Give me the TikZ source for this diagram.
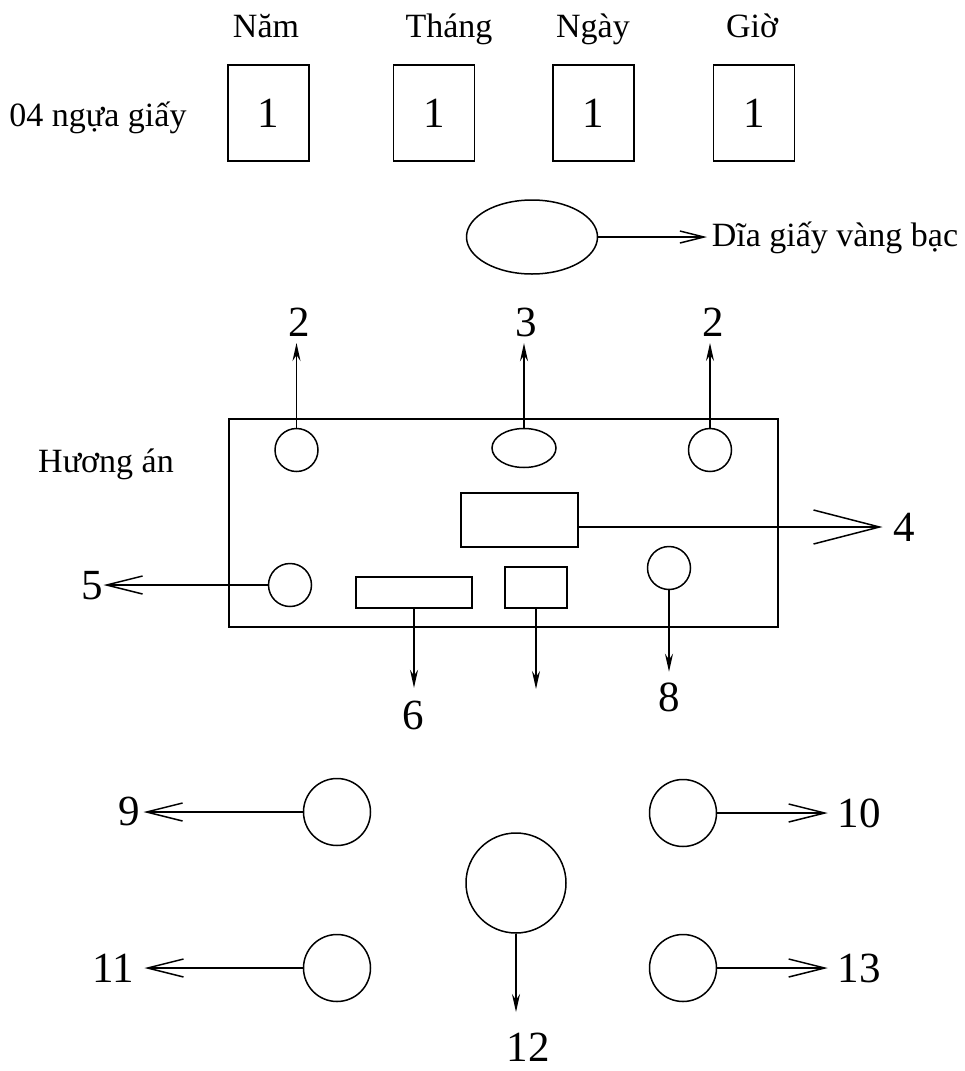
\documentclass[tikz,border=0pt]{standalone}
\usepackage{fontspec}
\setmainfont{Liberation Serif}
\usetikzlibrary{arrows.meta,shapes.geometric}
\begin{document}
\begin{tikzpicture}[x=1pt,y=-1pt,
  line width=1.5pt,
  lbl/.style={font=\fontsize{34}{36}\selectfont, inner sep=0pt},
  num/.style={font=\fontsize{43}{45}\selectfont, inner sep=0pt},
  cell/.style={draw, minimum width=81pt, minimum height=96pt, inner sep=0pt,
               font=\fontsize{43}{45}\selectfont},
  dot/.style={draw, circle, minimum size=43pt, inner sep=0pt},
  ring/.style={draw, circle, minimum size=67pt, inner sep=0pt},
  oval/.style={draw, ellipse, inner sep=0pt},
  part/.style={draw, rectangle, inner sep=0pt},
  barb/.style={-{Straight Barb[length=36pt,width=18pt]}},
  thinbarb/.style={-{Straight Barb[length=24pt,width=12pt]}},
  bigbarb/.style={-{Straight Barb[length=66pt,width=34pt]}},
  drop/.style={-{Stealth[length=18pt,width=8pt]}},
]
\useasboundingbox (0,0) rectangle (964,1071);

% date header
\node[lbl, anchor=base] (nam)   at (266,37) {Năm};
\node[lbl, anchor=base] (thang) at (449,37) {Tháng};
\node[lbl, anchor=base] (ngay)  at (593,37) {Ngày};
\node[lbl, anchor=base] (gio)   at (752,37) {Giờ};
\node[lbl, anchor=base] (ngua)  at (98,126) {04 ngựa giấy};

\node[cell] (b1) at (268.5,113) {1};
\node[cell] (b2) at (434,113) {1};
\node[cell] (b3) at (593.5,113) {1};
\node[cell] (b4) at (754,113) {1};

% paper tray
\node[oval, minimum width=131pt, minimum height=74pt] (tray) at (532,237) {};
\node[lbl, anchor=base west] (dia) at (711,246) {Dĩa giấy vàng bạc};
\draw[thinbarb, shorten >=4pt] (tray.east) -- (tray.east -| dia.west);

% altar table
\node[part, minimum width=549pt, minimum height=208pt] (table) at (503.5,523) {};
\node[lbl, anchor=base] (huong) at (106,472) {Hương án};

\node[dot] (c2a) at (296.5,450) {};
\node[oval, minimum width=64pt, minimum height=39pt] (c3) at (524,448) {};
\node[dot] (c2b) at (710,450) {};
\node[part, minimum width=117pt, minimum height=54pt] (r4) at (519.5,520) {};
\node[dot] (c5) at (290,585) {};
\node[part, minimum width=116pt, minimum height=31pt] (r6) at (414,592.5) {};
\node[part, minimum width=62pt, minimum height=41pt] (r7) at (536,587.5) {};
\node[dot] (c8) at (669,568) {};

\node[num] (l2a) at (299,322) {2};
\node[num] (l3)  at (526,322) {3};
\node[num] (l2b) at (713,322) {2};
\node[num] (l4)  at (904,527) {4};
\node[num] (l5)  at (92,586) {5};
\node[num] (l6)  at (413,715) {6};
\node[num] (l8)  at (669,697) {8};
\coordinate (e7) at (536,689);

\draw[drop, shorten >=6pt] (c2a.north) -- (c2a.north |- l2a.south);
\draw[drop, shorten >=6pt] (c3.north) -- (c3.north |- l3.south);
\draw[drop, shorten >=6pt] (c2b.north) -- (c2b.north |- l2b.south);
\draw[bigbarb, shorten >=10pt] (l4 -| r4.east) -- (l4.west);
\draw[barb] (c5.west) -- (c5.west -| l5.east);
\draw[drop, shorten >=12pt] (r6.south) -- (r6.south |- l6.north);
\draw[drop] (r7.south) -- (e7);
\draw[drop, shorten >=10pt] (c8.south) -- (c8.south |- l8.north);

% lower arrangement
\node[ring] (c9)  at (337,812) {};
\node[ring] (c10) at (683,813) {};
\node[ring] (c11) at (337,968) {};
\node[ring] (c13) at (683,968) {};
\node[draw, circle, minimum size=100pt, inner sep=0pt] (big) at (516,883) {};

\node[num] (l9)  at (129,811) {9};
\node[num] (l10) at (859,813) {10};
\node[num] (l11) at (113,968) {11};
\node[num] (l13) at (859,968) {13};
\node[num] (l12) at (528,1047) {12};

\draw[barb, shorten >=3pt] (c9.west) -- (c9.west -| l9.east);
\draw[barb, shorten >=9pt] (c10.east) -- (c10.east -| l10.west);
\draw[barb, shorten >=10pt] (c11.west) -- (c11.west -| l11.east);
\draw[barb, shorten >=9pt] (c13.east) -- (c13.east -| l13.west);
\draw[drop, shorten >=20pt] (big.south) -- (big.south |- l12.north);
\end{tikzpicture}
\end{document}
